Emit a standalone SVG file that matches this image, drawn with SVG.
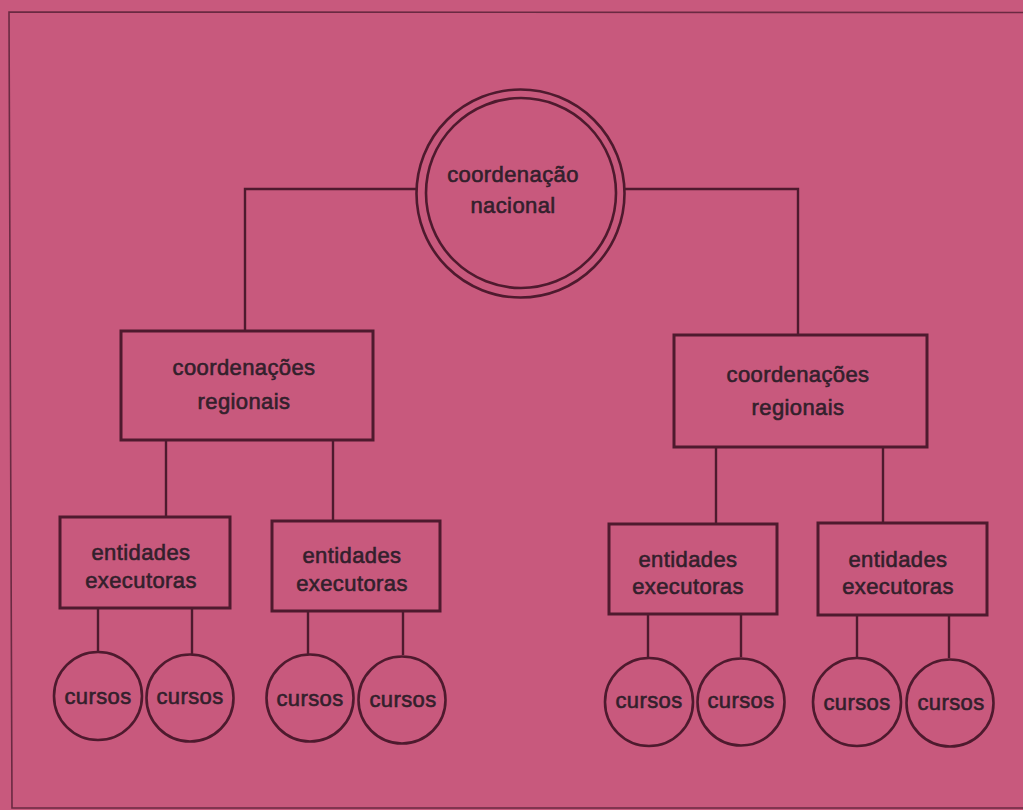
<svg xmlns="http://www.w3.org/2000/svg" width="1023" height="810" viewBox="0 0 1023 810">
<style>
.ln{fill:none;stroke:#4e1a2e;stroke-width:2.4}
.bx{fill:none;stroke:#4e1a2e;stroke-width:3}
.cc{fill:none;stroke:#4e1a2e;stroke-width:2.6}
.fr{fill:none;stroke:#6a2a42;stroke-width:1.6}
.t{font-family:"Liberation Sans",Arial,sans-serif;font-size:22px;fill:#33202c;stroke:#33202c;stroke-width:0.6px;text-anchor:middle;letter-spacing:0.4px}
</style>
<rect x="0" y="0" width="1023" height="810" fill="#c8597d"/>
<path class="fr" d="M1023 12.5 L9 12 L12 808 L1023 808"/>
<g id="connectors">
<path class="ln" d="M417 189 H245 V330"/>
<path class="ln" d="M624 189 H798 V335"/>
<path class="ln" d="M166 440 V517"/>
<path class="ln" d="M333 440 V521"/>
<path class="ln" d="M716 447 V524"/>
<path class="ln" d="M883 447 V523"/>
<path class="ln" d="M98 608 V652"/>
<path class="ln" d="M192 608 V655"/>
<path class="ln" d="M308 611 V654"/>
<path class="ln" d="M403 611 V655"/>
<path class="ln" d="M648 614 V657"/>
<path class="ln" d="M741 614 V657"/>
<path class="ln" d="M857 615 V657"/>
<path class="ln" d="M949 615 V658"/>
</g>
<g id="nacional">
<circle class="cc" cx="520.5" cy="193.5" r="104"/>
<circle class="cc" cx="521" cy="193" r="95"/>
<text class="t" x="513" y="182">coordenação</text>
<text class="t" x="513" y="213">nacional</text>
</g>
<g id="regional-left">
<rect class="bx" x="121" y="331" width="252" height="109"/>
<text class="t" x="244" y="375">coordenações</text>
<text class="t" x="244" y="409">regionais</text>
</g>
<g id="regional-right">
<rect class="bx" x="674" y="335" width="253" height="112"/>
<text class="t" x="798" y="382">coordenações</text>
<text class="t" x="798" y="415">regionais</text>
</g>
<g id="entidades-1">
<rect class="bx" x="60" y="517" width="170" height="91"/>
<text class="t" x="141" y="560">entidades</text>
<text class="t" x="141" y="588">executoras</text>
</g>
<g id="entidades-2">
<rect class="bx" x="272" y="521" width="168" height="90"/>
<text class="t" x="352" y="563">entidades</text>
<text class="t" x="352" y="591">executoras</text>
</g>
<g id="entidades-3">
<rect class="bx" x="609" y="524" width="168" height="90"/>
<text class="t" x="688" y="567">entidades</text>
<text class="t" x="688" y="594">executoras</text>
</g>
<g id="entidades-4">
<rect class="bx" x="818" y="523" width="169" height="92"/>
<text class="t" x="898" y="567">entidades</text>
<text class="t" x="898" y="594">executoras</text>
</g>
<g id="cursos-1"><circle class="cc" cx="98" cy="696" r="44"/><text class="t" x="98" y="704">cursos</text></g>
<g id="cursos-2"><circle class="cc" cx="190" cy="698" r="43.5"/><text class="t" x="190" y="704">cursos</text></g>
<g id="cursos-3"><circle class="cc" cx="310" cy="698" r="43.5"/><text class="t" x="310" y="706">cursos</text></g>
<g id="cursos-4"><circle class="cc" cx="402" cy="700" r="43.5"/><text class="t" x="403" y="707">cursos</text></g>
<g id="cursos-5"><circle class="cc" cx="649" cy="702" r="44"/><text class="t" x="649" y="708">cursos</text></g>
<g id="cursos-6"><circle class="cc" cx="741" cy="702" r="43.5"/><text class="t" x="741" y="708">cursos</text></g>
<g id="cursos-7"><circle class="cc" cx="857" cy="702" r="44"/><text class="t" x="857" y="710">cursos</text></g>
<g id="cursos-8"><circle class="cc" cx="950" cy="703" r="43.5"/><text class="t" x="951" y="710">cursos</text></g>
</svg>
